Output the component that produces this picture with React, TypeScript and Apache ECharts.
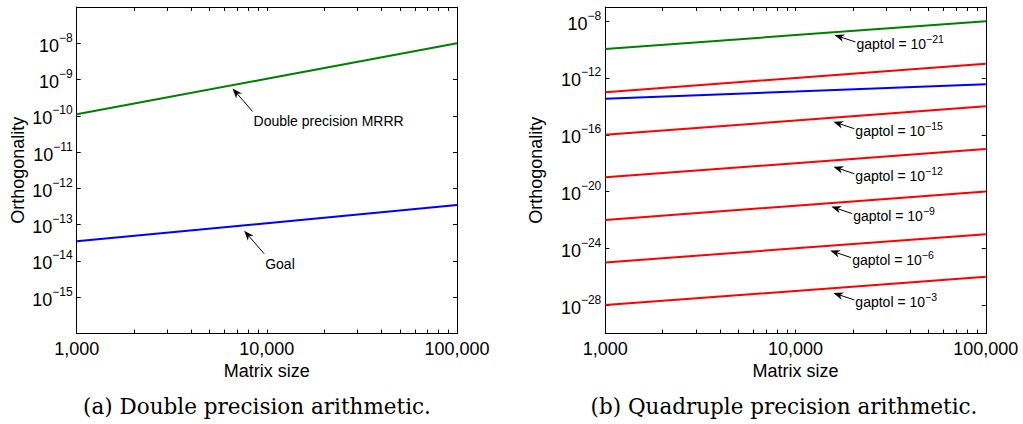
import React, { useEffect, useRef } from "react";
import * as echarts from "echarts";

// ---------- data ----------
const matrixSizes = [1000, 10000, 100000];
const xMajorTicks = [1000, 10000, 100000];
const xAllTicks = [
  1000, 2000, 3000, 4000, 5000, 6000, 7000, 8000, 9000,
  10000, 20000, 30000, 40000, 50000, 60000, 70000, 80000, 90000, 100000,
];
const leftYTicks = [1e-16, 1e-15, 1e-14, 1e-13, 1e-12, 1e-11, 1e-10, 1e-9, 1e-8, 1e-7];
const leftYLabels = [1e-15, 1e-14, 1e-13, 1e-12, 1e-11, 1e-10, 1e-9, 1e-8];
const rightYTicks = [1e-28, 1e-24, 1e-20, 1e-16, 1e-12, 1e-8];

// (a) double precision
const doubleMrrr = [1.1e-10, 1.05e-9, 1e-8];
const doubleGoal = [3.5e-14, 1.1e-13, 3.5e-13];
// (b) quadruple precision
const quadGreen = [1.1e-10, 1.05e-9, 1e-8];
const quadGoal = [3.5e-14, 1.1e-13, 3.6e-13];
const quadRed1 = [1e-13, 1e-12, 1e-11];
const quadRed2 = [1e-16, 1e-15, 1e-14];
const quadRed3 = [1e-19, 1e-18, 1e-17];
const quadRed4 = [1e-22, 1e-21, 1e-20];
const quadRed5 = [1e-25, 1e-24, 1e-23];
const quadRed6 = [1e-28, 1e-27, 1e-26];

// annotations: arrow tip in data coordinates
const leftNotes = [
  { label: "Double precision MRRR", sup: "", x: 6600, y: 5.7e-10 },
  { label: "Goal", sup: "", x: 7600, y: 6.8e-14 },
];
const rightNotes = [
  { label: "gaptol = 10", sup: "\u221221", x: 16000, y: 1.07e-9 },
  { label: "gaptol = 10", sup: "\u221215", x: 15800, y: 8.3e-16 },
  { label: "gaptol = 10", sup: "\u221212", x: 15800, y: 5.6e-19 },
  { label: "gaptol = 10", sup: "\u22129", x: 15400, y: 8.7e-22 },
  { label: "gaptol = 10", sup: "\u22126", x: 15200, y: 6.9e-25 },
  { label: "gaptol = 10", sup: "\u22123", x: 15800, y: 7.2e-28 },
];

const captions = ["(a) Double precision arithmetic.", "(b) Quadruple precision arithmetic."];

// ---------- style ----------
const FONT = "'Liberation Sans', Arial, Helvetica, sans-serif";
const SERIF = "'DejaVu Serif', 'Liberation Serif', serif";
const GREEN = "#008000";
const BLUE = "#0000ff";
const RED = "#ff0000";

function pow10Label(v: number) {
  const e = Math.round(Math.log10(v));
  const s = e < 0 ? "\u2212" + -e : String(e);
  return `{b|10}{s|${s}}`;
}
function commaLabel(v: number) {
  return Math.round(v).toLocaleString("en-US");
}

const yRich = {
  b: { fontSize: 18, fontFamily: FONT, color: "#000", lineHeight: 23, verticalAlign: "bottom" },
  s: { fontSize: 12, fontFamily: FONT, color: "#000", lineHeight: 12, verticalAlign: "top" },
};

function xAxis(gridIndex: number, top: boolean) {
  return {
    type: "log",
    logBase: 10,
    gridIndex,
    min: 1000,
    max: 100000,
    position: top ? "top" : "bottom",
    axisLine: { show: true, onZero: false, lineStyle: { color: "#000", width: 1 } },
    axisTick: { show: true, inside: true, length: 4, customValues: xAllTicks, lineStyle: { color: "#000", width: 1 } },
    axisLabel: top
      ? { show: false }
      : { show: true, customValues: xMajorTicks, formatter: commaLabel, fontSize: 18, fontFamily: FONT, color: "#000", margin: 6 },
    splitLine: { show: false },
    minorTick: { show: false },
    name: top ? "" : "Matrix size",
    nameLocation: "middle",
    nameGap: 23,
    nameTextStyle: { fontSize: 18, fontFamily: FONT, color: "#000" },
  };
}

function yAxis(gridIndex: number, right: boolean, min: number, ticks: number[], labels: number[], nameGap: number) {
  return {
    type: "log",
    logBase: 10,
    gridIndex,
    min,
    max: 1e-7,
    position: right ? "right" : "left",
    axisLine: { show: true, onZero: false, lineStyle: { color: "#000", width: 1 } },
    axisTick: { show: true, inside: true, length: 4, customValues: ticks, lineStyle: { color: "#000", width: 1 } },
    axisLabel: right
      ? { show: false }
      : { show: true, customValues: labels, formatter: pow10Label, rich: yRich, margin: 4 },
    splitLine: { show: false },
    name: right ? "" : "Orthogonality",
    nameLocation: "middle",
    nameGap,
    nameTextStyle: { fontSize: 18, fontFamily: FONT, color: "#000" },
  };
}

function line(name: string, values: number[], color: string, xi: number, yi: number) {
  return {
    name,
    type: "line",
    xAxisIndex: xi,
    yAxisIndex: yi,
    data: matrixSizes.map((x, i) => [x, values[i]]),
    showSymbol: false,
    symbol: "none",
    lineStyle: { color, width: 2 },
    itemStyle: { color },
    silent: true,
    z: 3,
  };
}

function arrowEls(tip: number[], tail: number[]) {
  const dx = tail[0] - tip[0];
  const dy = tail[1] - tip[1];
  const len = Math.hypot(dx, dy);
  const ux = dx / len;
  const uy = dy / len;
  const nx = -uy;
  const ny = ux;
  const L = 10;
  const W = 3.8;
  const N = 7;
  return [
    {
      type: "line",
      silent: true,
      z: 10,
      shape: { x1: tip[0] + ux * N, y1: tip[1] + uy * N, x2: tail[0], y2: tail[1] },
      style: { stroke: "#000", lineWidth: 1 },
    },
    {
      type: "polygon",
      silent: true,
      z: 10,
      shape: {
        points: [
          [tip[0], tip[1]],
          [tip[0] + ux * L + nx * W, tip[1] + uy * L + ny * W],
          [tip[0] + ux * N, tip[1] + uy * N],
          [tip[0] + ux * L - nx * W, tip[1] + uy * L - ny * W],
        ],
      },
      style: { fill: "#000" },
    },
  ];
}

export default function App() {
  const ref = useRef<HTMLDivElement>(null);

  useEffect(() => {
    if (!ref.current) return;
    const chart = echarts.init(ref.current, undefined, { renderer: "svg" });
    const option: any = {
      animation: false,
      backgroundColor: "#ffffff",
      grid: [
        { left: 76.7, top: 7, width: 380.3, height: 326.5, containLabel: false, show: false },
        { left: 605.3, top: 7, width: 380.5, height: 326.5, containLabel: false, show: false },
      ],
      xAxis: [xAxis(0, false), xAxis(0, true), xAxis(1, false), xAxis(1, true)],
      yAxis: [
        yAxis(0, false, 1e-16, leftYTicks, leftYLabels, 50),
        yAxis(0, true, 1e-16, leftYTicks, leftYLabels, 50),
        yAxis(1, false, 1e-30, rightYTicks, rightYTicks, 60),
        yAxis(1, true, 1e-30, rightYTicks, rightYTicks, 60),
      ],
      series: [
        line("Double precision MRRR", doubleMrrr, GREEN, 0, 0),
        line("Goal", doubleGoal, BLUE, 0, 0),
        line("Quad green", quadGreen, GREEN, 2, 2),
        line("Quad red 1", quadRed1, RED, 2, 2),
        line("Quad goal", quadGoal, BLUE, 2, 2),
        line("Quad red 2", quadRed2, RED, 2, 2),
        line("Quad red 3", quadRed3, RED, 2, 2),
        line("Quad red 4", quadRed4, RED, 2, 2),
        line("Quad red 5", quadRed5, RED, 2, 2),
        line("Quad red 6", quadRed6, RED, 2, 2),
      ],
    };
    chart.setOption(option);

    const els: any[] = [];
    leftNotes.forEach((n) => {
      const tip = chart.convertToPixel({ seriesIndex: 0 }, [n.x, n.y]) as number[];
      const tail = [tip[0] + 20, tip[1] + 23];
      els.push(...arrowEls(tip, tail));
      els.push({
        type: "text",
        silent: true,
        z: 10,
        x: tip[0] + 21,
        y: tip[1] + 33,
        style: { text: n.label, fontSize: 14, fontFamily: FONT, fill: "#000", align: "left", verticalAlign: "middle" },
      });
    });
    rightNotes.forEach((n) => {
      const tip = chart.convertToPixel({ seriesIndex: 2 }, [n.x, n.y]) as number[];
      const tail = [tip[0] + 21, tip[1] + 7];
      els.push(...arrowEls(tip, tail));
      els.push({
        type: "text",
        silent: true,
        z: 10,
        x: tip[0] + 22,
        y: tip[1] + 7.5,
        style: {
          text: `{b|${n.label}}{s|${n.sup}}`,
          align: "left",
          verticalAlign: "middle",
          rich: {
            b: { fontSize: 14, fontFamily: FONT, fill: "#000", lineHeight: 17, verticalAlign: "bottom" },
            s: { fontSize: 10.5, fontFamily: FONT, fill: "#000", lineHeight: 10.5, verticalAlign: "top" },
          },
        },
      });
    });
    [257, 784].forEach((cx, i) => {
      els.push({
        type: "text",
        silent: true,
        x: cx,
        y: 406,
        style: { text: captions[i], fontSize: 21.5, fontFamily: SERIF, fill: "#000", align: "center", verticalAlign: "middle" },
      });
    });
    chart.setOption({ graphic: els });

    return () => chart.dispose();
  }, []);

  return (
    <div
      ref={ref}
      style={{ position: "fixed", left: 0, top: 0, width: 1023, height: 424, background: "#fff" }}
    />
  );
}
